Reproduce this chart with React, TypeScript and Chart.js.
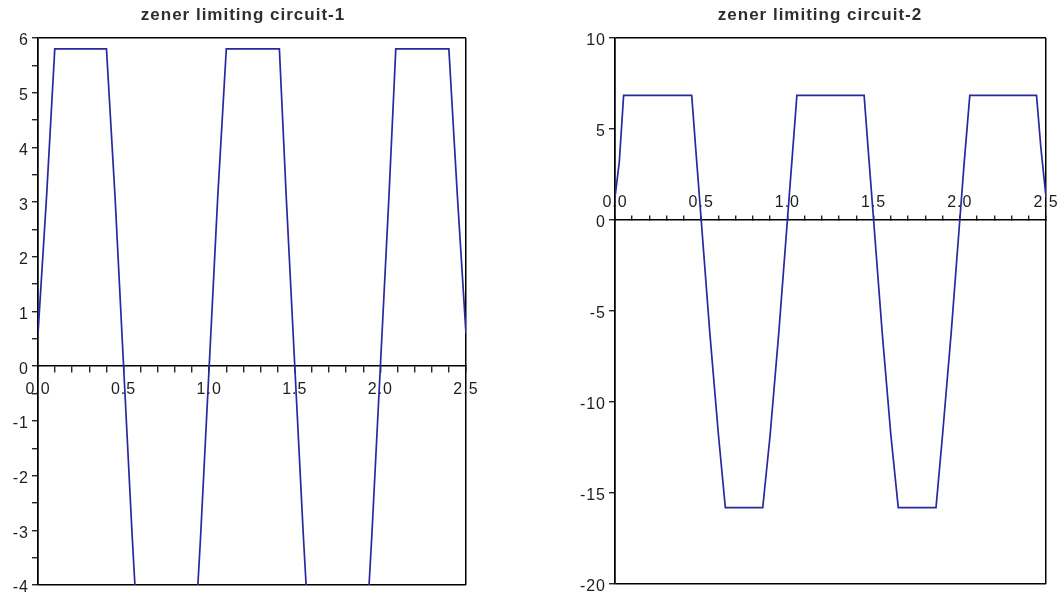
import React, { useEffect, useRef } from 'react';
import { Chart, registerables } from 'chart.js';

Chart.register(...registerables);

// ---------- data ----------
const title1 = 'zener limiting circuit-1';
const x1 = [0, 0.05, 0.098, 0.40, 0.45, 0.50, 0.55, 0.60, 0.75, 0.90, 0.95, 1.00, 1.05, 1.10, 1.41, 1.45, 1.50, 1.55, 1.60, 1.75, 1.90, 1.95, 2.00, 2.05, 2.09, 2.40, 2.45, 2.50];
const y1 = [0.6, 3.1, 5.8, 5.8, 3.1, 0.0, -3.1, -5.9, -10, -5.9, -3.1, 0.0, 3.1, 5.8, 5.8, 3.1, 0.0, -3.1, -5.9, -10, -5.9, -3.1, 0.0, 3.1, 5.8, 5.8, 3.1, 0.6];
const yRange1 = [-4, 6];

const title2 = 'zener limiting circuit-2';
const x2 = [0, 0.025, 0.05, 0.445, 0.47, 0.50, 0.55, 0.60, 0.64, 0.857, 0.90, 0.95, 0.975, 1.00, 1.025, 1.055, 1.445, 1.47, 1.50, 1.55, 1.60, 1.643, 1.862, 1.90, 1.95, 1.975, 2.00, 2.025, 2.058, 2.445, 2.47, 2.50];
const y2 = [1.25, 3.2, 6.85, 6.85, 3.7, 0, -6.2, -11.8, -15.8, -15.8, -11.8, -6.2, -3.1, 0, 3.1, 6.85, 6.85, 3.7, 0, -6.2, -11.8, -15.8, -15.8, -11.8, -6.2, -3.1, 0, 3.1, 6.85, 6.85, 4.0, 1.25];
const yRange2 = [-20, 10];

const xRange = [0, 2.5];
const xLabelValues = [0, 0.5, 1.0, 1.5, 2.0, 2.5];

// ---------- styling ----------
const FONT = '"Liberation Sans", Arial, Helvetica, sans-serif';
const INK = '#000000';
const TEXT = '#1e1e1e';
const LINE = '#2828a0';

function setSpacing(chart: any) {
  const ctx = chart.ctx as any;
  if (ctx && 'letterSpacing' in ctx) ctx.letterSpacing = '1px';
}
const spacingPlugin = {
  id: 'letterSpacingPlugin',
  beforeInit: setSpacing,
  beforeUpdate: setSpacing,
  beforeLayout: setSpacing,
  beforeDraw: setSpacing,
};

const near = (a: number, b: number) => Math.abs(a - b) < 1e-6;

type PanelProps = {
  title: string;
  xs: number[];
  ys: number[];
  yRange: number[];
  yStep: number;
  yLabelStep: number;
  labelsAbove: boolean;
  left: number;
  width: number;
  yAxisWidth: number;
  rightGap: number;
  padBottom: number;
};

function Panel(p: PanelProps) {
  const ref = useRef<HTMLCanvasElement | null>(null);
  useEffect(() => {
    if (!ref.current) return;
    const [yMin, yMax] = p.yRange;
    const [xMin, xMax] = xRange;
    const chart = new Chart(ref.current, {
      type: 'line',
      data: {
        datasets: [
          {
            data: p.xs.map((x, i) => ({ x, y: p.ys[i] })),
            borderColor: LINE,
            borderWidth: 1.7,
            pointRadius: 0,
            tension: 0,
            fill: false,
            xAxisID: 'x',
            yAxisID: 'y',
          },
        ],
      },
      plugins: [spacingPlugin],
      options: {
        animation: false,
        responsive: false,
        devicePixelRatio: 1,
        events: [],
        layout: { padding: { left: 0, top: 0, right: 0, bottom: p.padBottom } },
        plugins: {
          legend: { display: false },
          tooltip: { enabled: false },
          title: {
            display: true,
            text: p.title,
            color: '#2e2e2e',
            font: { family: FONT, size: 17, weight: 'bold' },
            padding: { top: 5, bottom: 12.6 },
          },
        },
        scales: {
          x: {
            type: 'linear',
            min: xMin,
            max: xMax,
            position: { y: 0 } as any,
            border: { display: true, color: INK, width: 1.5 },
            grid: {
              drawOnChartArea: true,
              color: (ctx: any) =>
                ctx.tick && (near(ctx.tick.value, xMin) || near(ctx.tick.value, xMax)) ? INK : 'rgba(0,0,0,0)',
              lineWidth: 1.5,
              tickColor: INK,
              tickWidth: 1.2,
              tickLength: p.labelsAbove ? -5 : 6,
            },
            ticks: {
              stepSize: 0.1,
              maxTicksLimit: 100,
              autoSkip: false,
              maxRotation: 0,
              minRotation: 0,
              padding: p.labelsAbove ? -21.6 : 7.4,
              color: TEXT,
              font: { family: FONT, size: 16 },
              callback: (v: any) => {
                const n = Number(v);
                return xLabelValues.some((t) => near(t, n)) ? n.toFixed(1) : '';
              },
            },
          },
          y: {
            type: 'linear',
            min: yMin,
            max: yMax,
            position: 'left',
            afterFit: (scale: any) => {
              scale.width = p.yAxisWidth;
            },
            border: { display: true, color: INK, width: 1.5 },
            grid: {
              drawOnChartArea: true,
              color: (ctx: any) =>
                ctx.tick && (near(ctx.tick.value, yMin) || near(ctx.tick.value, yMax)) ? INK : 'rgba(0,0,0,0)',
              lineWidth: 1.5,
              tickColor: INK,
              tickWidth: 1.2,
              tickLength: 6,
            },
            ticks: {
              stepSize: p.yStep,
              maxTicksLimit: 100,
              autoSkip: false,
              padding: 3,
              labelOffset: 3,
              color: TEXT,
              font: { family: FONT, size: 16 },
              callback: (v: any) => {
                const n = Number(v);
                const k = n / p.yLabelStep;
                return near(k, Math.round(k)) ? String(Math.round(n)) : '';
              },
            },
          },
          // empty right-hand axis that only reserves the white gap right of the frame
          yGap: {
            type: 'linear',
            position: 'right',
            display: true,
            afterFit: (scale: any) => {
              scale.width = p.rightGap;
            },
            border: { display: false },
            grid: { display: false, drawTicks: false },
            ticks: { display: false },
          },
        },
      } as any,
    });
    return () => chart.destroy();
  }, []);
  return (
    <canvas
      ref={ref}
      width={p.width}
      height={598}
      style={{ position: 'absolute', left: p.left, top: 0, width: p.width, height: 598 }}
    />
  );
}

export default function App() {
  return (
    <div
      style={{
        position: 'absolute',
        left: 0,
        top: 0,
        width: 1064,
        height: 598,
        background: '#ffffff',
        overflow: 'hidden',
      }}
    >
      <Panel
        title={title1}
        xs={x1}
        ys={y1}
        yRange={yRange1}
        yStep={0.5}
        yLabelStep={1}
        labelsAbove={false}
        left={0}
        width={486}
        yAxisWidth={38}
        rightGap={16}
        padBottom={13}
      />
      <Panel
        title={title2}
        xs={x2}
        ys={y2}
        yRange={yRange2}
        yStep={5}
        yLabelStep={5}
        labelsAbove={true}
        left={576}
        width={488}
        yAxisWidth={39}
        rightGap={18}
        padBottom={14}
      />
    </div>
  );
}
